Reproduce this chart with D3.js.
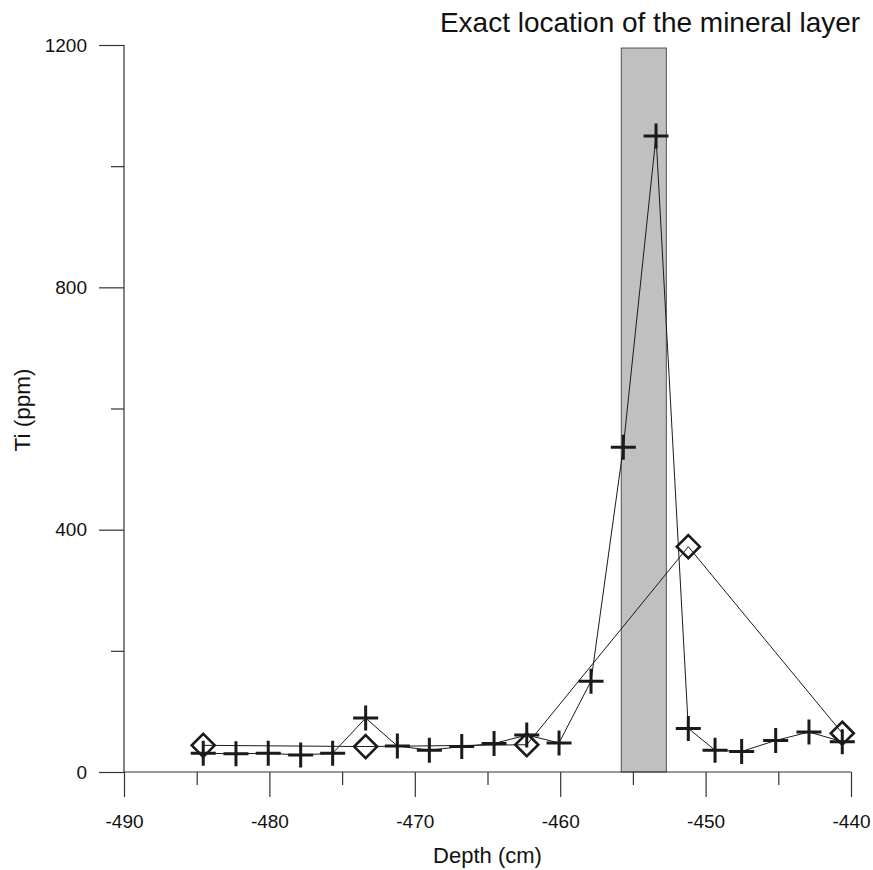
<!DOCTYPE html>
<html>
<head>
<meta charset="utf-8">
<script src="https://cdn.jsdelivr.net/npm/d3@7"></script>
<style>
  html, body { margin: 0; padding: 0; background: #fff; }
  svg { display: block; }
  text { font-family: "Liberation Sans", Arial, sans-serif; fill: #111; }
</style>
</head>
<body>
<svg id="chart" width="873" height="870"></svg>
<script>
// Series 1 (crosses): depth (cm) and Ti (ppm)
const crossDepth = [-484.55, -482.3, -480.08, -477.85, -475.65, -473.38, -471.2, -469.0, -466.77, -464.55,
                    -462.3, -460.08, -457.88, -455.66, -453.41, -451.19, -449.35, -447.52, -445.18, -442.89, -440.6];
const crossTi    = [31, 30, 31, 28, 31, 89, 43, 36, 42, 47,
                    61, 48, 150, 536, 1050, 72, 36, 34, 52, 66, 50];
// Series 2 (diamonds)
const diamondDepth = [-484.55, -473.38, -462.3, -451.19, -440.6];
const diamondTi    = [44, 42, 45, 372, 64];
// Mineral layer band
const layerDepth = [-455.8, -452.7];
const layerTop = 1195;
// Axes
const xTicksMajor = [-490, -480, -470, -460, -450, -440];
const xTicksMinor = [-485, -475, -465, -455, -445];
const yTicksMajor = [0, 400, 800, 1200];
const yTicksMinor = [200, 600, 1000];
const titleText = "Exact location of the mineral layer";
const xLabel = "Depth (cm)";
const yLabel = "Ti (ppm)";

const svg = d3.select("#chart");
const x = d3.scaleLinear().domain([-490, -440]).range([124, 851]);
const y = d3.scaleLinear().domain([0, 1200]).range([772, 45]);
const ink = "#1a1a1a";
const fmt = d => String(d); // plain hyphen-minus, as in the original

// band
svg.append("rect")
  .attr("x", x(layerDepth[0])).attr("y", y(layerTop))
  .attr("width", x(layerDepth[1]) - x(layerDepth[0]))
  .attr("height", y(0) - y(layerTop))
  .attr("fill", "#c0c0c0").attr("stroke", "#505050").attr("stroke-width", 1);

// axes
const xAxisMajor = d3.axisBottom(x).tickValues(xTicksMajor).tickSize(25).tickPadding(18).tickFormat(fmt);
const xAxisMinor = d3.axisBottom(x).tickValues(xTicksMinor).tickSize(13).tickFormat("");
const gx = svg.append("g").attr("transform", `translate(0,${y(0)})`).call(xAxisMajor);
svg.append("g").attr("transform", `translate(0,${y(0)})`).call(xAxisMinor).select(".domain").remove();
const yAxisMajor = d3.axisLeft(y).tickValues(yTicksMajor).tickSize(25).tickPadding(12).tickFormat(fmt);
const yAxisMinor = d3.axisLeft(y).tickValues(yTicksMinor).tickSize(13).tickFormat("");
const gy = svg.append("g").attr("transform", `translate(${x(-490)},0)`).call(yAxisMajor);
svg.append("g").attr("transform", `translate(${x(-490)},0)`).call(yAxisMinor).select(".domain").remove();

svg.selectAll(".domain").attr("stroke", "#333").attr("stroke-width", 1.2);
svg.selectAll(".tick line").attr("stroke", "#333").attr("stroke-width", 1.2);
svg.selectAll(".tick text").style("font-family", '"Liberation Sans", Arial, sans-serif')
  .style("font-size", "19px").attr("fill", "#111");
gx.select(".domain").attr("d", `M${x(-490)},0H${x(-440)}`);
gy.select(".domain").attr("d", `M0,${y(1200)}V${y(0)}`);

// lines
const line = d3.line().x(d => x(d[0])).y(d => y(d[1]));
const crossPts = crossDepth.map((d, i) => [d, crossTi[i]]);
const diaPts = diamondDepth.map((d, i) => [d, diamondTi[i]]);
svg.append("path").datum(diaPts).attr("d", line).attr("fill", "none").attr("stroke", ink).attr("stroke-width", 1);
svg.append("path").datum(crossPts).attr("d", line).attr("fill", "none").attr("stroke", ink).attr("stroke-width", 1);

// diamonds
const dr = 11.5;
svg.append("g").selectAll("path").data(diaPts).join("path")
  .attr("d", d => {
    const cx = x(d[0]), cy = y(d[1]);
    return `M${cx},${cy - dr}L${cx + dr},${cy}L${cx},${cy + dr}L${cx - dr},${cy}Z`;
  })
  .attr("fill", "none").attr("stroke", ink).attr("stroke-width", 2.6);

// crosses
const cr = 12.5;
svg.append("g").selectAll("path").data(crossPts).join("path")
  .attr("d", d => {
    const cx = x(d[0]), cy = y(d[1]);
    return `M${cx - cr},${cy}H${cx + cr}M${cx},${cy - cr}V${cy + cr}`;
  })
  .attr("fill", "none").attr("stroke", ink).attr("stroke-width", 3);

// titles
svg.append("text").attr("x", 650).attr("y", 31.5).attr("text-anchor", "middle")
  .style("font-size", "28px").text(titleText);
svg.append("text").attr("x", (x(-490) + x(-440)) / 2).attr("y", 863).attr("text-anchor", "middle")
  .style("font-size", "22px").text(xLabel);
svg.append("text").attr("transform", `translate(30,410) rotate(-90)`).attr("text-anchor", "middle")
  .style("font-size", "22.5px").text(yLabel);
</script>
</body>
</html>
